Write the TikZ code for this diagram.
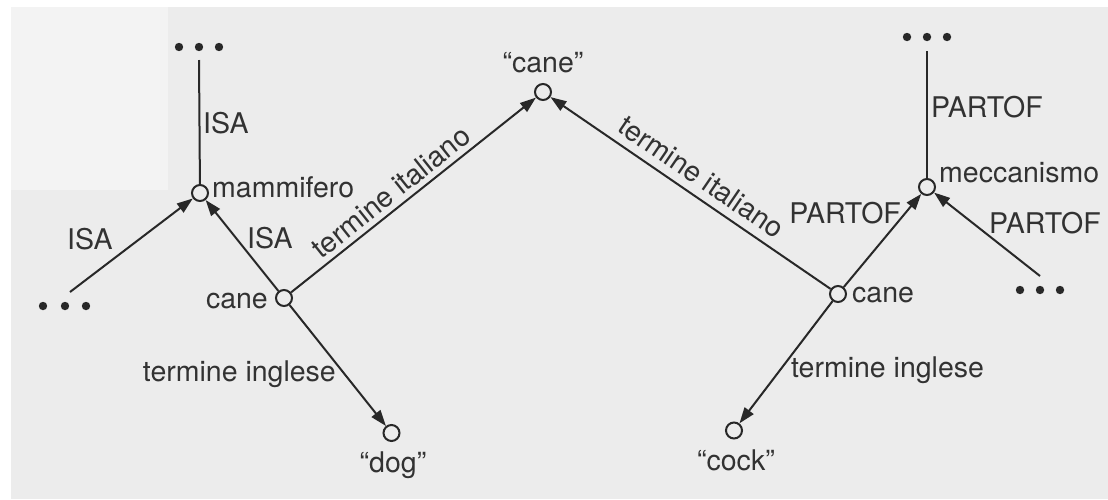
\documentclass[tikz,border=0pt]{standalone}
\usepackage{fontspec}
\setmainfont{TeX Gyre Heros}
\usetikzlibrary{arrows.meta}
\definecolor{bgmain}{RGB}{236,236,236}
\definecolor{bglight}{RGB}{243,243,243}
\definecolor{ink}{RGB}{40,40,40}
\definecolor{txt}{RGB}{50,50,50}
\begin{document}
\begin{tikzpicture}[x=1pt,y=-1pt,
  vert/.style={circle,draw=ink,line width=2pt,minimum size=16pt,inner sep=0pt,fill=bgmain},
  conn/.style={draw=ink,line width=2pt},
  arr/.style={conn,-{Triangle[length=16pt,width=11pt]}},
  lbl/.style={text=txt,font=\fontsize{28.5}{31}\selectfont,inner sep=0pt},
  dotmark/.style={fill=ink,draw=none}]
\useasboundingbox (0,0) rectangle (1108,499);
\fill[white] (0,0) rectangle (1108,499);
\fill[bgmain] (11,7) rectangle (1108,499);
\fill[bglight] (11,7) rectangle (168,190);

% vertices
\node[vert] (mamm) at (200,193) {};
\node[vert] (caneL) at (284,298) {};
\node[vert] (dog) at (391.5,433) {};
\node[vert] (caneIT) at (543,92) {};
\node[vert] (caneR) at (838,294) {};
\node[vert] (mecc) at (927,187) {};
\node[vert] (cock) at (734,430.5) {};

% dots
\foreach \x in {179,199,219} \fill[dotmark] (\x,47) circle (4.2);
\foreach \x in {43,65,86} \fill[dotmark] (\x,306) circle (4.2);
\foreach \x in {907,927,947} \fill[dotmark] (\x,37) circle (4.2);
\foreach \x in {1020,1040,1060} \fill[dotmark] (\x,290) circle (4.2);
\coordinate (tlEnd) at (199,60);
\coordinate (lEnd) at (70,292);
\coordinate (trEnd) at (927,51);
\coordinate (rEnd) at (1040,276);

% connectors
\draw[conn] (tlEnd) -- (mamm);
\draw[arr] (lEnd) -- (mamm);
\draw[arr] (caneL) -- (mamm);
\draw[arr] (caneL) -- (dog);
\draw[arr] (caneL) -- node[lbl,pos=0.45,rotate=38.5,anchor=south,yshift=5pt] {termine italiano} (caneIT);
\draw[arr] (caneR) -- node[lbl,pos=0.5,rotate=-34.3,anchor=south,yshift=8pt] {termine italiano} (caneIT);
\draw[conn] (trEnd) -- (mecc);
\draw[arr] (caneR) -- (mecc);
\draw[arr] (rEnd) -- (mecc);
\draw[arr] (caneR) -- (cock);

% labels
\node[lbl,anchor=base west] (lISAtop) at (203,133) {ISA};
\node[lbl,anchor=base west] (lmamm) at (212,197) {mammifero};
\node[lbl,anchor=base west] (lISAl) at (67,249) {ISA};
\node[lbl,anchor=base west] (lISAm) at (247,248) {ISA};
\node[lbl,anchor=base east] (lcaneL) at (268,308) {cane};
\node[lbl,anchor=base east] (ltiL) at (336,381) {termine inglese};
\node[lbl,anchor=base] (ldog) at (393,472) {“dog”};
\node[lbl,anchor=base] (lcaneIT) at (543,72) {“cane”};
\node[lbl,anchor=base west] (lPtop) at (931,117) {PARTOF};
\node[lbl,anchor=base west] (lmecc) at (939,182) {meccanismo};
\node[lbl,anchor=base east] (lPl) at (901,223) {PARTOF};
\node[lbl,anchor=base west] (lPr) at (989,233) {PARTOF};
\node[lbl,anchor=base west] (lcaneR) at (852,302) {cane};
\node[lbl,anchor=base west] (ltiR) at (791,377) {termine inglese};
\node[lbl,anchor=base] (lcock) at (736,470) {“cock”};
\end{tikzpicture}
\end{document}
